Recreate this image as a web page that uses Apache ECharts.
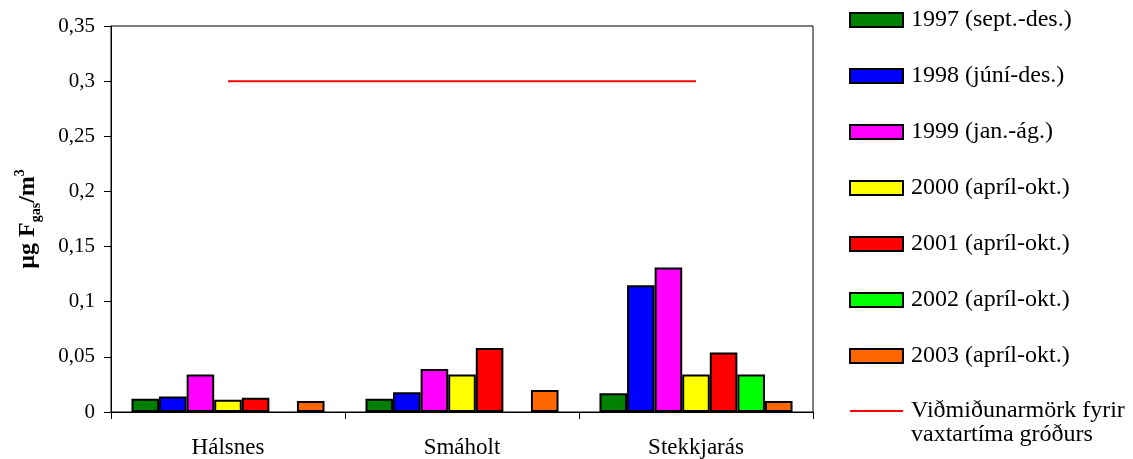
<!DOCTYPE html>
<html>
<head>
<meta charset="utf-8">
<script src="https://cdn.jsdelivr.net/npm/echarts@6/dist/echarts.min.js"></script>
<style>
  html, body { margin: 0; padding: 0; background: #fff; }
  #chart { width: 1133px; height: 459px; }
</style>
</head>
<body>
<div id="chart"></div>
<script>
// Sampling sites
const categories = ['Hálsnes', 'Smáholt', 'Stekkjarás'];

// Gaseous fluoride, µg F/m3, per measuring period
const v1997 = [0.012, 0.012, 0.017];
const v1998 = [0.014, 0.018, 0.115];
const v1999 = [0.034, 0.039, 0.131];
const v2000 = [0.011, 0.034, 0.034];
const v2001 = [0.013, 0.058, 0.054];
const v2002 = [null, null, 0.034];
const v2003 = [0.010, 0.020, 0.010];

// Guideline for the growing season
const guideline = [0.3, 0.3, 0.3];

const seriesNames = [
  '1997 (sept.-des.)',
  '1998 (júní-des.)',
  '1999 (jan.-ág.)',
  '2000 (apríl-okt.)',
  '2001 (apríl-okt.)',
  '2002 (apríl-okt.)',
  '2003 (apríl-okt.)'
];
const guidelineName = 'Viðmiðunarmörk fyrir\nvaxtartíma gróðurs';
const yTicks = ['0', '0,05', '0,1', '0,15', '0,2', '0,25', '0,3', '0,35'];

const seriesValues = [v1997, v1998, v1999, v2000, v2001, v2002, v2003];
const colors = ['#008000', '#0000ff', '#ff00ff', '#ffff00', '#ff0000', '#00ff00', '#ff6600'];

const FONT = "'Liberation Serif', 'Times New Roman', serif";

const chart = echarts.init(document.getElementById('chart'), null, { renderer: 'canvas' });

const barSeries = seriesValues.map((vals, i) => ({
  name: seriesNames[i],
  type: 'bar',
  data: vals,
  barGap: '0%',
  barCategoryGap: '17.5%',
  itemStyle: { color: colors[i], borderColor: '#000', borderWidth: 2 }
}));

const legendText = { fontFamily: FONT, fontSize: 24, color: '#000', lineHeight: 26, padding: [0, 0, 0, 3] };

chart.setOption({
  animation: false,
  backgroundColor: '#fff',
  grid: {
    left: 111, top: 26, width: 702, height: 386,
    show: true, borderColor: '#000', borderWidth: 1, backgroundColor: 'transparent'
  },
  legend: [
    {
      // period boxes
      orient: 'vertical',
      left: 844,
      top: 2,
      itemWidth: 53,
      itemHeight: 14,
      itemGap: 30,
      data: seriesNames.map(n => ({ name: n, icon: 'rect' })),
      textStyle: legendText
    },
    {
      // guideline: line icon sits beside the first of the two text lines
      orient: 'vertical',
      left: 844,
      top: 370,
      itemWidth: 53,
      itemHeight: 14,
      data: [{ name: guidelineName, itemStyle: { opacity: 0 } }],
      formatter: (name) => '\n' + name,
      textStyle: Object.assign({}, legendText, { lineHeight: 24 })
    }
  ],
  xAxis: {
    type: 'category',
    data: categories,
    boundaryGap: true,
    axisLine: { lineStyle: { color: '#000', width: 1 } },
    axisTick: { show: true, length: 7, lineStyle: { color: '#000' } },
    axisLabel: { fontFamily: FONT, fontSize: 23, color: '#000', margin: 24 }
  },
  yAxis: {
    type: 'value',
    min: 0,
    max: 0.35,
    interval: 0.05,
    splitLine: { show: false },
    axisLine: { show: true, lineStyle: { color: '#000', width: 1 } },
    axisTick: { show: true, length: 7, lineStyle: { color: '#000' } },
    axisLabel: {
      fontFamily: FONT, fontSize: 21, color: '#000', margin: 16,
      formatter: (v) => yTicks[Math.round(v / 0.05)]
    }
  },
  graphic: [{
    type: 'text',
    x: 28,
    y: 219,
    rotation: Math.PI / 2,
    style: {
      text: '{a|µg F}{b|gas}{a|/m}{c|3}',
      align: 'center',
      verticalAlign: 'middle',
      rich: {
        a: { fontFamily: FONT, fontSize: 24, fontWeight: 'bold', fill: '#000', lineHeight: 30 },
        b: { fontFamily: FONT, fontSize: 14, fontWeight: 'bold', fill: '#000', verticalAlign: 'bottom', lineHeight: 30 },
        c: { fontFamily: FONT, fontSize: 14, fontWeight: 'bold', fill: '#000', verticalAlign: 'top', lineHeight: 30 }
      }
    }
  }],
  series: barSeries.concat([{
    name: guidelineName,
    type: 'line',
    data: guideline,
    symbol: 'none',
    lineStyle: { color: '#ff0000', width: 2 },
    itemStyle: { color: '#ff0000' }
  }])
});
</script>
</body>
</html>
